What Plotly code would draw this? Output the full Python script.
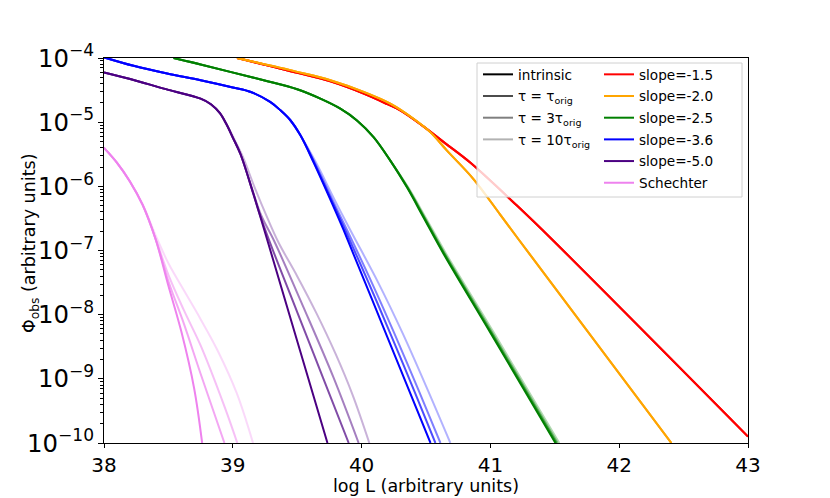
import numpy as np
import plotly.graph_objects as go

# log10 L (x) and log10 Phi_obs (y)

# slope = -1.5 (red)
red_L = [39.033, 39.5, 39.757, 40.016, 40.2, 40.3, 40.469, 40.65, 40.843, 41.206, 41.477, 43.0]
red_lg = [-4.0, -4.23, -4.365, -4.555, -4.72, -4.817, -5.05, -5.33, -5.63, -6.30, -6.825, -9.9]

# slope = -2.0 (orange)
orange_L = [39.033, 39.5, 39.757, 40.016, 40.223, 40.403, 40.533, 40.663, 40.87, 41.076, 41.218, 42.405]
orange_lg = [-4.0, -4.216, -4.347, -4.529, -4.712, -4.947, -5.155, -5.443, -5.89, -6.44, -6.825, -10.0]

# slope = -2.5 (green)
green_L = [38.54, 38.75, 38.98, 39.24, 39.5, 39.68, 39.835, 39.964, 40.093, 40.223,
           40.352, 40.481, 40.636, 41.0, 41.505]
green_lg = [-4.0, -4.1, -4.216, -4.347, -4.488, -4.634, -4.79, -4.973, -5.233, -5.599,
            -6.016, -6.485, -7.05, -8.28, -10.0]
green_t1_tail = [40.355, 40.485, 40.641, 41.006, 41.513]
green_t3_tail = [40.357, 40.489, 40.646, 41.013, 41.521]
green_t10_tail = [40.362, 40.497, 40.656, 41.026, 41.535]

# slope = -3.6 (blue)
blue_L = [38.0, 38.23, 38.49, 38.75, 39.0, 39.14, 39.29, 39.37, 39.447, 39.524,
          39.628, 39.756, 39.86, 40.2, 40.535]
blue_lg = [-3.99, -4.122, -4.243, -4.347, -4.46, -4.53, -4.685, -4.816, -4.97, -5.20,
           -5.63, -6.20, -6.68, -8.35, -10.0]
blue_tail_lg = [-5.63, -6.20, -6.68, -7.5, -8.3, -9.2, -10.0]
blue_t1_tail = [39.631, 39.762, 39.872, 40.054, 40.224, 40.411, 40.573]
blue_t3_tail = [39.636, 39.771, 39.887, 40.079, 40.256, 40.447, 40.612]
blue_t10_tail = [39.646, 39.788, 39.912, 40.129, 40.321, 40.519, 40.689]

# slope = -5.0 (indigo)
purple_L = [38.0, 38.25, 38.5, 38.75, 38.83, 38.9, 38.95, 39.0, 39.06, 39.16, 39.266, 39.5, 39.735]
purple_lg = [-4.227, -4.355, -4.497, -4.634, -4.72, -4.86, -5.03, -5.24, -5.50, -6.12, -6.825, -8.41, -10.0]
purple_t1_L = [39.2, 39.28, 39.5, 39.7, 39.9]
purple_t1_lg = [-6.38, -6.83, -7.96, -8.98, -10.0]
purple_t3_L = [39.15, 39.22, 39.323, 39.55, 39.78, 39.977]
purple_t3_lg = [-6.04, -6.45, -6.86, -7.89, -8.97, -10.0]
purple_t10_L = [39.0, 39.08, 39.17, 39.27, 39.356, 39.5, 39.65, 39.8, 39.93, 40.06]
purple_t10_lg = [-5.22, -5.55, -6.02, -6.50, -6.88, -7.40, -7.98, -8.62, -9.25, -10.0]

# Schechter (violet)
pink_L = [38.0, 38.1, 38.2, 38.3, 38.4, 38.5, 38.6, 38.7, 38.762]
pink_lg = [-5.40, -5.63, -5.92, -6.29, -6.82, -7.55, -8.26, -9.15, -10.0]
pink_t1_L = [38.5, 38.62, 38.75, 38.935]
pink_t1_lg = [-7.48, -8.14, -8.92, -10.0]
pink_t3_L = [38.4, 38.5, 38.62, 38.75, 38.935, 39.035]
pink_t3_lg = [-6.81, -7.38, -7.93, -8.48, -9.43, -10.0]
pink_t10_L = [38.3, 38.4, 38.5, 38.62, 38.75, 38.88, 39.03, 39.157]
pink_t10_lg = [-6.28, -6.76, -7.20, -7.62, -8.07, -8.55, -9.22, -10.0]

tau_names = ['intrinsic', 'τ = τ<sub>orig</sub>', 'τ = 3τ<sub>orig</sub>', 'τ = 10τ<sub>orig</sub>']
tau_alpha = [1.0, 0.7, 0.5, 0.3]
slope_names = ['slope=-1.5', 'slope=-2.0', 'slope=-2.5', 'slope=-3.6', 'slope=-5.0', 'Schechter']
colors = [(255, 0, 0), (255, 165, 0), (0, 128, 0), (0, 0, 255), (75, 0, 130), (238, 130, 238)]

# curves per colour: [intrinsic, tau, 3tau, 10tau] as (x, log y)
curves = [
    [(red_L, red_lg)] * 4,
    [(orange_L, orange_lg)] * 4,
    [(green_L, green_lg),
     (green_L[:10] + green_t1_tail, green_lg),
     (green_L[:10] + green_t3_tail, green_lg),
     (green_L[:10] + green_t10_tail, green_lg)],
    [(blue_L, blue_lg),
     (blue_L[:10] + blue_t1_tail, blue_lg[:10] + blue_tail_lg),
     (blue_L[:10] + blue_t3_tail, blue_lg[:10] + blue_tail_lg),
     (blue_L[:10] + blue_t10_tail, blue_lg[:10] + blue_tail_lg)],
    [(purple_L, purple_lg),
     (purple_L[:10] + purple_t1_L, purple_lg[:10] + purple_t1_lg),
     (purple_L[:9] + purple_t3_L, purple_lg[:9] + purple_t3_lg),
     (purple_L[:7] + purple_t10_L, purple_lg[:7] + purple_t10_lg)],
    [(pink_L, pink_lg),
     (pink_L[:5] + pink_t1_L, pink_lg[:5] + pink_t1_lg),
     (pink_L[:4] + pink_t3_L, pink_lg[:4] + pink_t3_lg),
     (pink_L[:3] + pink_t10_L, pink_lg[:3] + pink_t10_lg)],
]


def rgba(c, a):
    return 'rgba(%d,%d,%d,%.2f)' % (c[0], c[1], c[2], a)


fig = go.Figure()

for c, group in zip(colors, curves):
    for k in [3, 2, 1, 0]:
        x, lg = group[k]
        fig.add_trace(go.Scatter(
            x=x, y=np.power(10.0, lg), mode='lines',
            line=dict(color=rgba(c, tau_alpha[k]), width=2, shape='spline', smoothing=1.0),
            showlegend=False, hoverinfo='skip'))

# legend entries
for i, (name, a) in enumerate(zip(tau_names, tau_alpha)):
    fig.add_trace(go.Scatter(x=[None], y=[None], mode='lines', name=name,
                             line=dict(color=rgba((0, 0, 0), a), width=2),
                             legend='legend', legendgroup='t%d' % i))
for i, (name, c) in enumerate(zip(slope_names, colors)):
    fig.add_trace(go.Scatter(x=[None], y=[None], mode='lines', name=name,
                             line=dict(color=rgba(c, 1.0), width=2),
                             legend='legend2', legendgroup='s%d' % i))

# plot area in window pixels: x 104..748, y 58..443 (page body adds 8px)
PW, PH = 644, 385


def px(xp):
    return (xp - 104) / PW


def py(yp):
    return (443 - yp) / PH


# legend frame
fig.add_shape(type='rect', xref='paper', yref='paper', x0=px(477), x1=px(742), y0=py(197), y1=py(63),
              fillcolor='rgba(255,255,255,0.8)', line=dict(color='#d0d0d0', width=1), layer='above')

# axis titles
fig.add_annotation(text='Φ<sub>obs</sub> (arbitrary units)', xref='paper', yref='paper',
                   x=px(30), y=py(244), xanchor='center', yanchor='middle', textangle=-90,
                   showarrow=False, font=dict(size=17.5))
fig.add_annotation(text='log L (arbitrary units)', xref='paper', yref='paper',
                   x=0.5, y=py(486), xanchor='center', yanchor='middle',
                   showarrow=False, font=dict(size=17.5))

leg = dict(xanchor='left', yanchor='top', bgcolor='rgba(0,0,0,0)', borderwidth=0,
           font=dict(family='DejaVu Sans', size=13.6, color='black'), tracegroupgap=1, itemwidth=30)

fig.update_layout(
    width=822, height=490,
    margin=dict(l=96, r=82, t=50, b=55),
    plot_bgcolor='white', paper_bgcolor='white',
    font=dict(family='DejaVu Sans', color='black'),
    legend=dict(leg, x=px(478), y=py(59)),
    legend2=dict(leg, x=px(599), y=py(59)),
    xaxis=dict(range=[38, 43], dtick=1, ticks='outside', ticklen=4, tickwidth=1.1, tickcolor='black',
               showline=True, mirror=True, linecolor='black', linewidth=1.1, automargin=False,
               showgrid=False, zeroline=False, tickfont=dict(size=20)),
    yaxis=dict(type='log', range=[-10, -4], dtick=1, exponentformat='power', showexponent='all',
               ticks='outside', ticklen=5, tickwidth=1.1, tickcolor='black', automargin=False,
               minor=dict(ticks='outside', ticklen=2.8, tickwidth=0.8, tickcolor='black', dtick='D1'),
               showline=True, mirror=True, linecolor='black', linewidth=1.1,
               showgrid=False, zeroline=False, tickfont=dict(size=19.5)),
)

fig.write_html('out.html')
